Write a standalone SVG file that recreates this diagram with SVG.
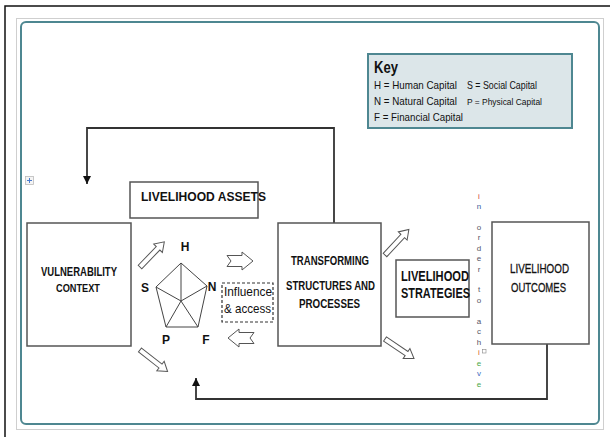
<svg xmlns="http://www.w3.org/2000/svg" width="610" height="437" viewBox="0 0 610 437">
<style>
.box{fill:#fff;stroke:#555;stroke-width:1.5}
.t{font-family:"Liberation Sans Narrow","Liberation Sans",Arial,sans-serif;fill:#111}
.b{font-weight:bold}
.conn{fill:none;stroke:#333;stroke-width:1.8}
.barrow{fill:#fff;stroke:#555;stroke-width:1}
.pent{fill:none;stroke:#444;stroke-width:1}
.vl{font-family:"Liberation Sans","DejaVu Sans",sans-serif;font-size:8px;text-anchor:middle}
</style>
<defs>
<marker id="ah" viewBox="0 0 10 10" refX="10" refY="5" markerWidth="4.5" markerHeight="4.5" orient="auto" markerUnits="strokeWidth"><path d="M0,0 L10,5 L0,10 Z" fill="#111"/></marker>
<path id="notch" d="M0,-5.5 L15,-5.5 L15,-9 L26,0 L15,9 L15,5.5 L0,5.5 L4,0 Z"/>
<path id="diag" d="M0,-2.5 L26,-2.5 L26,-6 L35,0 L26,6 L26,2.5 L0,2.5 Z"/>
</defs>
<rect width="610" height="437" fill="#fff"/>
<path d="M5,437 L5,6 L610,6" fill="none" stroke="#111" stroke-width="1.5"/>
<rect x="16.5" y="18.5" width="587" height="411" fill="none" stroke="#cfcfcf" stroke-width="1"/>
<rect x="21" y="22" width="578" height="402" rx="5" fill="none" stroke="#4e8791" stroke-width="2"/>
<g id="handle"><rect x="25.5" y="176.5" width="8" height="8" fill="#f4f4f4" stroke="#bbb" stroke-width="0.8"/><path d="M29.5,178 V183 M27,180.5 H32" stroke="#4a7bd0" stroke-width="1"/></g>

<g id="connectors">
<path class="conn" d="M334,223 V128 H87 V184" marker-end="url(#ah)"/>
<path class="conn" d="M547,344 V399 H196 V378" marker-end="url(#ah)"/>
</g>

<g id="key">
<rect x="368" y="54" width="204" height="74" fill="#dce6e9" stroke="#4e8791" stroke-width="2"/>
<text class="t b" x="374" y="73" font-size="17" textLength="24" lengthAdjust="spacingAndGlyphs">Key</text>
<text class="t" x="374" y="89" font-size="11" textLength="83" lengthAdjust="spacingAndGlyphs">H = Human Capital</text>
<text class="t" x="467" y="89" font-size="11" textLength="70" lengthAdjust="spacingAndGlyphs">S = Social Capital</text>
<text class="t" x="374" y="105" font-size="11" textLength="83" lengthAdjust="spacingAndGlyphs">N = Natural Capital</text>
<text class="t" x="467" y="105" font-size="9" textLength="75" lengthAdjust="spacingAndGlyphs">P = Physical Capital</text>
<text class="t" x="374" y="121" font-size="11" textLength="89" lengthAdjust="spacingAndGlyphs">F = Financial Capital</text>
</g>

<g id="vulnerability">
<rect class="box" x="27" y="223" width="104" height="123"/>
<text class="t b" x="41" y="276" font-size="12.5" textLength="76" lengthAdjust="spacingAndGlyphs">VULNERABILITY</text>
<text class="t b" x="56" y="292" font-size="10" textLength="44" lengthAdjust="spacingAndGlyphs">CONTEXT</text>
</g>

<g id="assets">
<rect class="box" x="130" y="182" width="128" height="36"/>
<text class="t b" x="141" y="201" font-size="13.5" textLength="125" lengthAdjust="spacingAndGlyphs">LIVELIHOOD ASSETS</text>
</g>

<g id="pentagon">
<path class="pent" d="M181,263 L207,286 L198,327 L166,327 L156,287 Z M181,263 L181,301 M207,286 L181,301 M198,327 L181,301 M166,327 L181,301 M156,287 L181,301"/>
<text class="t b" x="185" y="251" font-size="12" text-anchor="middle">H</text>
<text class="t b" x="145" y="292" font-size="12" text-anchor="middle">S</text>
<text class="t b" x="212" y="291" font-size="12" text-anchor="middle">N</text>
<text class="t b" x="166" y="344" font-size="12" text-anchor="middle">P</text>
<text class="t b" x="206" y="344" font-size="12" text-anchor="middle">F</text>
</g>

<g id="influence">
<rect x="222" y="283" width="51" height="39" fill="#fff" stroke="#333" stroke-width="1.2" stroke-dasharray="3,2"/>
<text class="t" x="224" y="296" font-size="13" textLength="48" lengthAdjust="spacingAndGlyphs">Influence</text>
<text class="t" x="224" y="313" font-size="13" textLength="47" lengthAdjust="spacingAndGlyphs">&amp; access</text>
</g>

<g id="block-arrows">
<use href="#notch" class="barrow" transform="translate(227,261)"/>
<use href="#notch" class="barrow" transform="translate(254,338) rotate(180)"/>
<use href="#diag" class="barrow" transform="translate(140,267) rotate(-46)"/>
<use href="#diag" class="barrow" transform="translate(140,350) rotate(38)"/>
<use href="#diag" class="barrow" transform="translate(385,255) rotate(-47)"/>
<use href="#diag" class="barrow" transform="translate(385,339) rotate(34)"/>
</g>

<g id="transforming">
<rect class="box" x="278" y="223" width="103" height="123"/>
<text class="t b" x="291" y="265" font-size="13" textLength="78" lengthAdjust="spacingAndGlyphs">TRANSFORMING</text>
<text class="t b" x="286" y="290" font-size="13" textLength="89" lengthAdjust="spacingAndGlyphs">STRUCTURES AND</text>
<text class="t b" x="299" y="308" font-size="13" textLength="61" lengthAdjust="spacingAndGlyphs">PROCESSES</text>
</g>

<g id="strategies">
<rect class="box" x="396" y="260" width="73" height="57"/>
<text class="t b" transform="translate(401,281) scale(0.77,1)" x="0" y="0" font-size="14" textLength="88.3" lengthAdjust="spacingAndGlyphs">LIVELIHOOD</text>
<text class="t b" transform="translate(401,298) scale(0.77,1)" x="0" y="0" font-size="14" textLength="89.6" lengthAdjust="spacingAndGlyphs">STRATEGIES</text>
</g>

<g id="vertical-text">
<text class="vl" x="479" y="199" fill="#d03a3a">i</text>
<text class="vl" x="479" y="209" fill="#3a5a9a">n</text>
<text class="vl" x="479" y="230" fill="#556">o</text>
<text class="vl" x="479" y="240" fill="#556">r</text>
<text class="vl" x="479" y="251" fill="#556">d</text>
<text class="vl" x="479" y="261" fill="#556">e</text>
<text class="vl" x="479" y="272" fill="#556">r</text>
<text class="vl" x="479" y="292" fill="#556">t</text>
<text class="vl" x="479" y="303" fill="#556">o</text>
<text class="vl" x="479" y="324" fill="#556">a</text>
<text class="vl" x="479" y="334" fill="#556">c</text>
<text class="vl" x="479" y="345" fill="#556">h</text>
<text class="vl" x="479" y="355" fill="#d8642a">i</text>
<text class="vl" x="479" y="366" fill="#4aa84a">e</text>
<text class="vl" x="479" y="376" fill="#3a6ac0">v</text>
<text class="vl" x="479" y="387" fill="#4aa84a">e</text>
<rect x="482.5" y="349.5" width="3.5" height="3.5" fill="none" stroke="#888" stroke-width="0.6"/>
</g>

<g id="outcomes">
<rect class="box" x="492" y="222" width="97" height="122"/>
<text class="t" x="510" y="273" font-size="13.5" textLength="59" lengthAdjust="spacingAndGlyphs" stroke="#111" stroke-width="0.3">LIVELIHOOD</text>
<text class="t" x="511" y="292" font-size="13.5" textLength="55" lengthAdjust="spacingAndGlyphs" stroke="#111" stroke-width="0.3">OUTCOMES</text>
</g>
</svg>
